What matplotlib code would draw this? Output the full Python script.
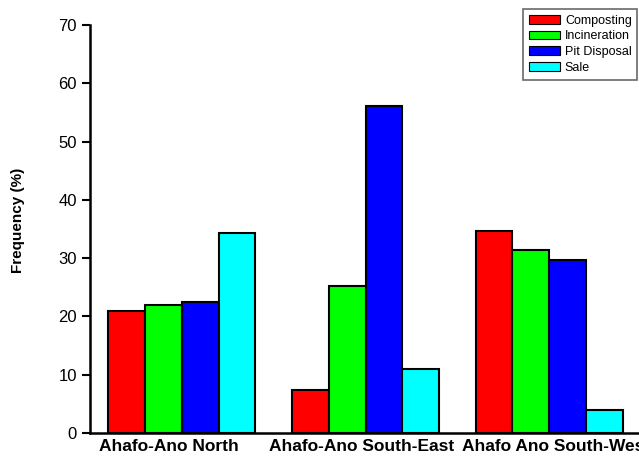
import matplotlib
matplotlib.use("Agg")
import matplotlib.pyplot as plt
import matplotlib.transforms as mtransforms
import numpy as np

plt.rcParams['font.family'] = ['Liberation Sans', 'DejaVu Sans']

districts = ["Ahafo-Ano North", "Ahafo-Ano South-East", "Ahafo Ano South-West"]
methods = ["Composting", "Incineration", "Pit Disposal", "Sale"]
composting = [21.0, 7.4, 34.7]
incineration = [22.0, 25.3, 31.4]
pit_disposal = [22.5, 56.1, 29.7]
sale = [34.3, 11.0, 4.0]
colors = ["#ff0000", "#00ff00", "#0000ff", "#00ffff"]

series = [composting, incineration, pit_disposal, sale]

fig = plt.figure(figsize=(6.39, 4.58), dpi=100)
ax = fig.add_axes([90 / 639, 1 - 433 / 458, 551 / 639, 408 / 458])

x = np.arange(1, len(districts) + 1)
width = 0.2
for i, (vals, col, name) in enumerate(zip(series, colors, methods)):
    ax.bar(x + (i - 1.5) * width, vals, width, color=col, edgecolor="black",
           linewidth=1.5, label=name, zorder=2)

ax.set_xlim(0.5, 3.5)
ax.set_ylim(0, 70)
ax.set_yticks(np.arange(0, 71, 10))
ax.set_xticks(x)
ax.set_xticklabels(districts, fontsize=12.5, fontweight="bold")
ax.tick_params(axis="y", labelsize=12, width=1.5, length=6, pad=3.5,
               direction="out")
ax.tick_params(axis="x", length=0, pad=4)

# nudge the category labels sideways (in points)
label_shift = [-9, -3, 5]
for lbl, dx in zip(ax.get_xticklabels(), label_shift):
    lbl.set_transform(lbl.get_transform() +
                      mtransforms.ScaledTranslation(dx / 72, 0, fig.dpi_scale_trans))

for s in ["top", "right"]:
    ax.spines[s].set_visible(False)
for s in ["left", "bottom"]:
    ax.spines[s].set_linewidth(1.8)
ax.set_ylabel("Frequency (%)", fontsize=11, fontweight="bold")
ax.yaxis.set_label_coords(-0.118, 0.522)

leg = fig.legend(loc="upper left", bbox_to_anchor=(523 / 639, 1 - 9 / 458),
                 fontsize=9, frameon=True, fancybox=False, borderpad=0.45,
                 handlelength=2.5, handleheight=0.72, handletextpad=0.4,
                 labelspacing=0.3, borderaxespad=0)
leg.get_frame().set_edgecolor("#444444")
leg.get_frame().set_linewidth(1.2)
for h in leg.legend_handles:
    h.set_linewidth(0.8)

fig.savefig("out.png", dpi=100)
